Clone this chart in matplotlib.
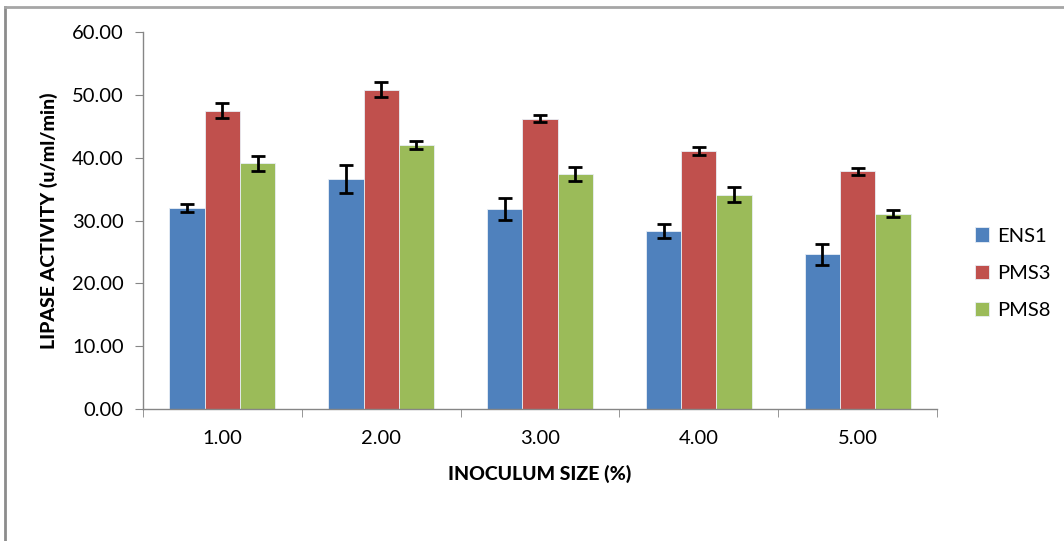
import numpy as np
import matplotlib
matplotlib.use("Agg")
import matplotlib.pyplot as plt
from matplotlib.lines import Line2D

# datos
categorias = ["1.00", "2.00", "3.00", "4.00", "5.00"]
ens1 = [32.0, 36.6, 31.9, 28.3, 24.6]
ens1_err = [0.7, 2.3, 1.75, 1.1, 1.7]
pms3 = [47.5, 50.8, 46.2, 41.1, 37.8]
pms3_err = [1.2, 1.2, 0.6, 0.65, 0.6]
pms8 = [39.1, 42.0, 37.4, 34.1, 31.1]
pms8_err = [1.2, 0.6, 1.15, 1.2, 0.6]

series = [("ENS1", ens1, ens1_err, "#4F81BD"),
          ("PMS3", pms3, pms3_err, "#C0504D"),
          ("PMS8", pms8, pms8_err, "#9BBB59")]

plt.rcParams["font.family"] = ["Lato", "DejaVu Sans"]

fig = plt.figure(figsize=(10.64, 5.41), dpi=100)
W, H = 1064, 541
ax = fig.add_axes([143 / W, (H - 409) / H, (937 - 143) / W, (409 - 32) / H])

# marco exterior del grafico
fig.add_artist(Line2D([5 / W, 5 / W], [0, 1 - 7 / H], color="#8c8c8c", lw=2))
fig.add_artist(Line2D([5 / W, 1], [1 - 7 / H, 1 - 7 / H], color="#a6a6a6", lw=2))

x = np.arange(len(categorias))
ancho = 1 / 4.5
for i, (nombre, vals, errs, color) in enumerate(series):
    pos = x + (i - 1) * ancho
    ax.bar(pos, vals, width=ancho, color=color, edgecolor="#e8eef5", linewidth=0.6,
           label=nombre, zorder=2)
    ax.errorbar(pos, vals, yerr=errs, fmt="none", ecolor="black", elinewidth=2,
                capsize=5, capthick=2, zorder=3)

ax.set_xlim(-0.5, len(categorias) - 0.5)
ax.set_ylim(0, 60)
ax.set_yticks(np.arange(0, 61, 10))
ax.set_yticklabels([f"{v:.2f}" for v in np.arange(0, 61, 10)], fontsize=14.5)
ax.set_xticks(x)
ax.set_xticklabels(categorias, fontsize=14.5)
ax.set_xticks(np.arange(-0.5, len(categorias), 1), minor=True)
ax.tick_params(axis="x", which="major", length=0, pad=15)
ax.tick_params(axis="x", which="minor", length=6, color="#868686", direction="out")
ax.tick_params(axis="y", length=6, color="#868686", direction="out", pad=8)

for lado in ["top", "right"]:
    ax.spines[lado].set_visible(False)
for lado in ["left", "bottom"]:
    ax.spines[lado].set_color("#868686")
    ax.spines[lado].set_linewidth(1)

ax.set_xlabel("INOCULUM SIZE (%)", fontsize=14, fontweight="black", labelpad=13)
ax.set_ylabel("LIPASE ACTIVITY (u/ml/min)", fontsize=14, fontweight="black", labelpad=10)

ax.legend(loc="center left", bbox_to_anchor=(1.025, 0.36), frameon=False, fontsize=14.5,
          handlelength=0.7, handleheight=0.7, handletextpad=0.4, labelspacing=1.0)

fig.savefig("out.png", dpi=100)
